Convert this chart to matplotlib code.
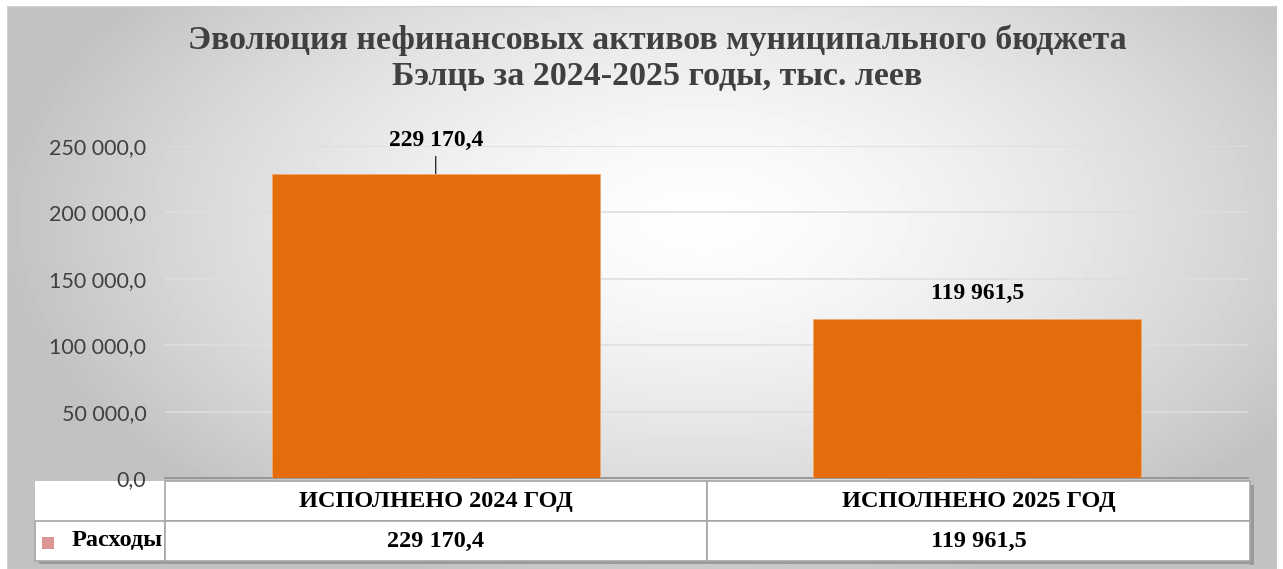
import numpy as np
import matplotlib.pyplot as plt
from matplotlib.patches import Rectangle

title = "Эволюция нефинансовых активов муниципального бюджета\nБэлць за 2024-2025 годы, тыс. леев"
categories = ["ИСПОЛНЕНО 2024 ГОД", "ИСПОЛНЕНО 2025 ГОД"]
series_name = "Расходы"
values = [229170.4, 119961.5]
yticks = [0, 50000, 100000, 150000, 200000, 250000]

W, H = 1283, 569


def fmt(v):
    s = "{:,.1f}".format(v)
    return s.replace(",", " ").replace(".", ",")


def fx(px):
    return px / W


def fy(py):
    return 1 - py / H


fig = plt.figure(figsize=(W / 100, H / 100), dpi=100)
fig.patch.set_facecolor("white")

# background panel with gradient
bg = fig.add_axes([fx(7), fy(569), fx(1277) - fx(7), fy(6) - fy(569)])
bg.set_axis_off()
bg.set_zorder(0)
gx, gy = np.meshgrid(np.arange(7, 1277), np.arange(6, 569))
d = np.sqrt(((gx - 700) / 700.0) ** 2 + ((gy - 220) / 380.0) ** 2)
d = np.clip(d, 0, 1) ** 1.5
c = 0.995 - (0.995 - 0.76) * d
bg.imshow(c, cmap="gray", vmin=0, vmax=1, aspect="auto", interpolation="bilinear")
bg.add_patch(Rectangle((0, 0), 1, 1, transform=bg.transAxes, fill=False,
                       edgecolor="#d0d0d0", lw=1))

# title
fig.text(fx(657), fy(58), title, ha="center", va="center", fontsize=24.5,
         fontweight="bold", family="Liberation Serif", color="#404040",
         linespacing=1.2)

# data table below the axis
tx = fig.add_axes([fx(35), fy(561), fx(1250) - fx(35), fy(481) - fy(561)])
tx.set_axis_off()
tx.set_zorder(1)
tx.set_xlim(35, 1250)
tx.set_ylim(561, 481)
tx.add_patch(Rectangle((1250, 485), 4, 80, facecolor="#9a9a9a", edgecolor="none",
                       clip_on=False, zorder=0))
tx.add_patch(Rectangle((39, 561), 1215, 3, facecolor="#9a9a9a", edgecolor="none",
                       clip_on=False, zorder=0))
tx.add_patch(Rectangle((35, 481), 130, 40, facecolor="white", edgecolor="none", zorder=4))
tbl = tx.table(cellText=[[""] + categories, [series_name] + [fmt(v) for v in values]],
               colWidths=[130 / 1215, 542 / 1215, 543 / 1215],
               cellLoc="center", bbox=[0, 0, 1, 1])
tbl.set_zorder(5)
tbl.auto_set_font_size(False)
for (r, ci), cell in tbl.get_celld().items():
    cell.set_edgecolor("#a6a6a6")
    cell.set_linewidth(1.2)
    cell.set_facecolor("white")
    cell.get_text().set_fontsize(17.5)
    cell.get_text().set_fontweight("bold")
    cell.get_text().set_fontfamily("Liberation Serif")
    if r == 0 and ci == 0:
        cell.visible_edges = ""
    if r == 1 and ci == 0:
        cell.get_text().set_ha("right")
        cell._loc = "right"
        cell.PAD = 0.02
tx.add_patch(Rectangle((42, 537), 12, 12, facecolor="#D99694", edgecolor="none", zorder=10))

# main axes
ax = fig.add_axes([fx(165), fy(478), fx(1248) - fx(165), fy(146) - fy(478)])
ax.set_zorder(2)
ax.set_facecolor("none")
x = np.arange(len(values))
ax.bar(x, values, width=0.606, color="#E46C0A", edgecolor="#F2A86E", lw=0.6, zorder=3)
ax.set_xlim(-0.5, 1.5)
ax.set_ylim(0, 250000)
ax.set_yticks(yticks)
ax.set_yticklabels([fmt(t) for t in yticks], family="Lato", fontsize=15.5, color="#404040")
ax.tick_params(axis="y", length=0, pad=13.5)
ax.set_xticks([])
ax.grid(axis="y", color="#dedede", lw=1.2, zorder=0)
for s in ["top", "right", "left"]:
    ax.spines[s].set_visible(False)
ax.spines["bottom"].set_color("#8c8c8c")
ax.spines["bottom"].set_linewidth(1.2)

offsets = [24, 18]
for i, v in enumerate(values):
    kw = {}
    if i == 0:
        kw["arrowprops"] = dict(arrowstyle="-", color="black", lw=0.8,
                                shrinkA=2, shrinkB=0)
    ax.annotate(fmt(v), xy=(x[i], v), xytext=(0, offsets[i]),
                textcoords="offset points", ha="center", va="center",
                fontsize=17, fontweight="bold", family="Liberation Serif",
                color="black", annotation_clip=False, **kw)

fig.savefig("out.png", dpi=100)
